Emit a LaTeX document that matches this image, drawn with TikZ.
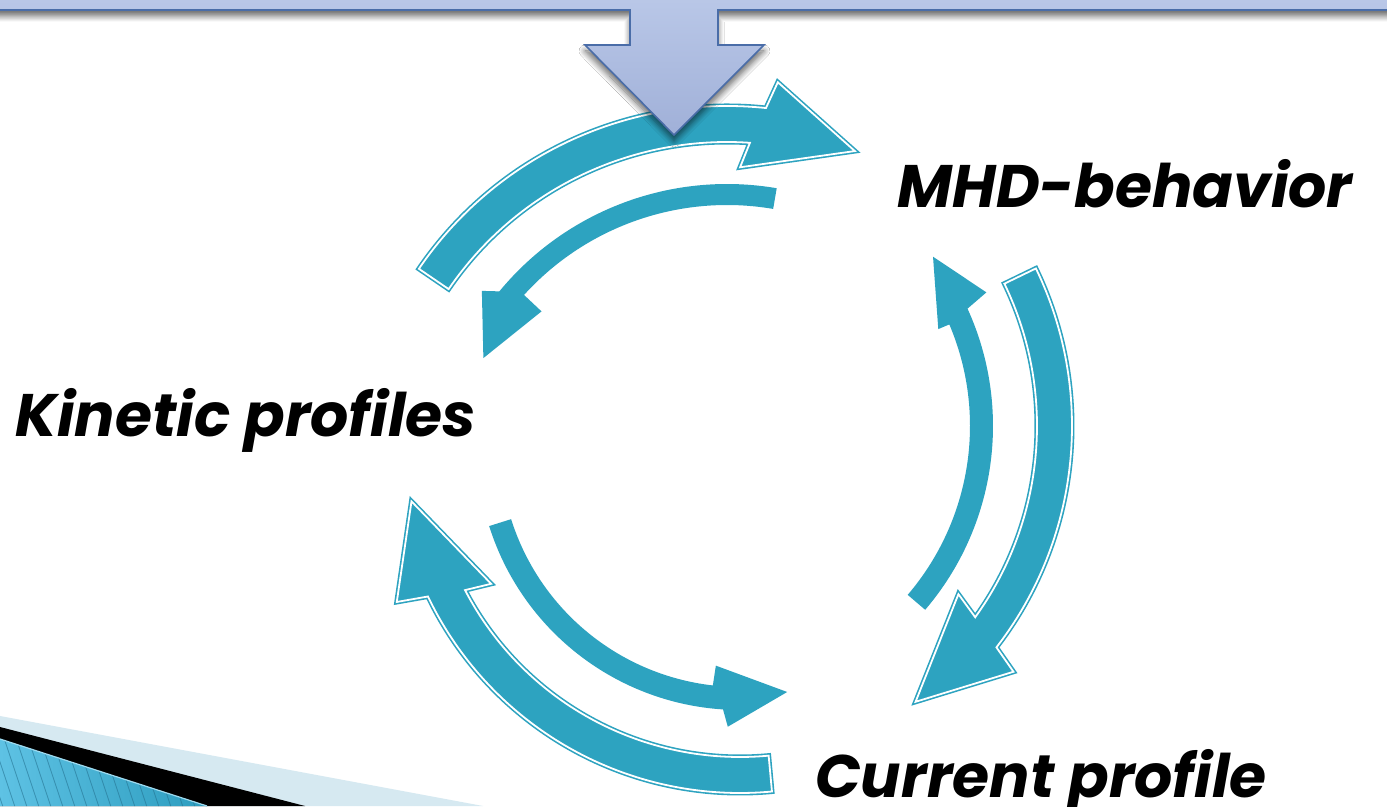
\documentclass[tikz,border=0pt]{standalone}
\usepackage{fontspec}
\setmainfont{Poppins}
\usetikzlibrary{shadows.blur}
\definecolor{cyc}{HTML}{2DA3C0}
\definecolor{bannertop}{HTML}{BAC8E8}
\definecolor{bannerbot}{HTML}{A0B0D8}
\definecolor{bannerline}{HTML}{4A6DA8}
\definecolor{palestrip}{HTML}{D6E9F1}
\definecolor{bluelight}{HTML}{5EC2E4}
\definecolor{bluedark}{HTML}{2C9CBE}
\definecolor{hatchc}{HTML}{23708F}
\tikzset{
  outlined/.style={preaction={fill=cyc, draw=cyc, line width=5pt, line join=miter},
                   draw=white, line width=1.8pt, line join=miter},
  plainarrow/.style={fill=cyc, draw=none},
  lbl/.style={font=\fontsize{60}{60}\selectfont\bfseries\itshape, inner sep=0pt, anchor=base west, text=black},
}
\begin{document}
\begin{tikzpicture}[x=1pt, y=1pt]
\useasboundingbox (0,0) rectangle (1387,806);
\clip (0,0) rectangle (1387,806);
\fill[white] (0,0) rectangle (1387,806);

% corner swoosh, bottom left
\fill[palestrip] (0,90) -- (483,0) -- (0,0) -- cycle;
\fill[black] (0,79) -- (305,0) -- (0,0) -- cycle;
\begin{scope}
  \clip (0,67) -- (207,0) -- (0,0) -- cycle;
  \shade[left color=bluelight, right color=bluedark] (0,0) rectangle (210,70);
  \foreach \i in {-4,...,22}
    \draw[hatchc, opacity=0.55, line width=0.8pt] (\i*12,80) -- ++(30,-90);
\end{scope}
\draw[bluelight!60!white, line width=1.2pt] (0,67) -- (207,0);

% Kinetic profiles -> MHD-behavior
\begin{scope}[shift={(727,327)}]
  \path[outlined] (145.7:373) arc[start angle=145.7, end angle=84, radius=373]
     -- (82.7:400) -- (68.7:352) -- (87.6:312) -- (86.1:337)
     arc[start angle=86.1, end angle=145.7, radius=337] -- cycle;
  % MHD-behavior -> Kinetic profiles
  \path[plainarrow] (80.3:295) arc[start angle=80.3, end angle=140.5, radius=295]
     -- (142.5:309) -- (153.6:272) -- (137.9:250) -- (137.8:274)
     arc[start angle=137.8, end angle=80.3, radius=274] -- cycle;
\end{scope}

% MHD-behavior -> Current profile
\begin{scope}[shift={(710,380)}]
  \path[outlined] (25.8:362) arc[start angle=25.8, end angle=-37.7, radius=362]
     -- (-39:390.5) -- (-53.3:344) -- (-34.1:300) -- (-35.8:327)
     arc[start angle=-35.8, end angle=25.8, radius=327] -- cycle;
  % Current profile -> MHD-behavior
  \path[plainarrow] (-40.5:283) arc[start angle=-40.5, end angle=24.5, radius=283]
     -- (25.8:307) -- (37.2:280) -- (23:248) -- (23:260)
     arc[start angle=23, end angle=-40.5, radius=260] -- cycle;
\end{scope}

% Current profile -> Kinetic profiles
\begin{scope}[shift={(740,359)}]
  \path[outlined] (-84.7:346) arc[start angle=-84.7, end angle=-154.4, radius=346]
     -- (-155.7:376.6) -- (-170.6:333) -- (-151.2:284) -- (-152.5:310)
     arc[start angle=-152.5, end angle=-84.7, radius=310] -- cycle;
  % Kinetic profiles -> Current profile
  \path[plainarrow] (-162.5:263) arc[start angle=-162.5, end angle=-93.7, radius=263]
     -- (-92.5:280) -- (-79.1:249.5) -- (-96.3:220) -- (-96.5:240)
     arc[start angle=-96.5, end angle=-162.5, radius=240] -- cycle;
\end{scope}

% top banner with its downward arrow
\path[top color=bannertop, bottom color=bannerbot, draw=bannerline, line width=1.6pt,
      line join=miter,
      blur shadow={shadow xshift=0pt, shadow yshift=-6pt, shadow blur radius=6pt, shadow blur steps=10, shadow opacity=60}]
  (-10,812) -- (1397,812) -- (1397,796) -- (718,796) -- (718,761) -- (764,761)
  -- (674,671) -- (585,761) -- (630,761) -- (630,796) -- (-10,796) -- cycle;

% labels
\node[lbl] (mhd) at (897,598) {MHD-behavior};
\node[lbl] (kin) at (15,369) {Kinetic profiles};
\node[lbl] (cur) at (815,9) {Current profile};
\end{tikzpicture}
\end{document}
